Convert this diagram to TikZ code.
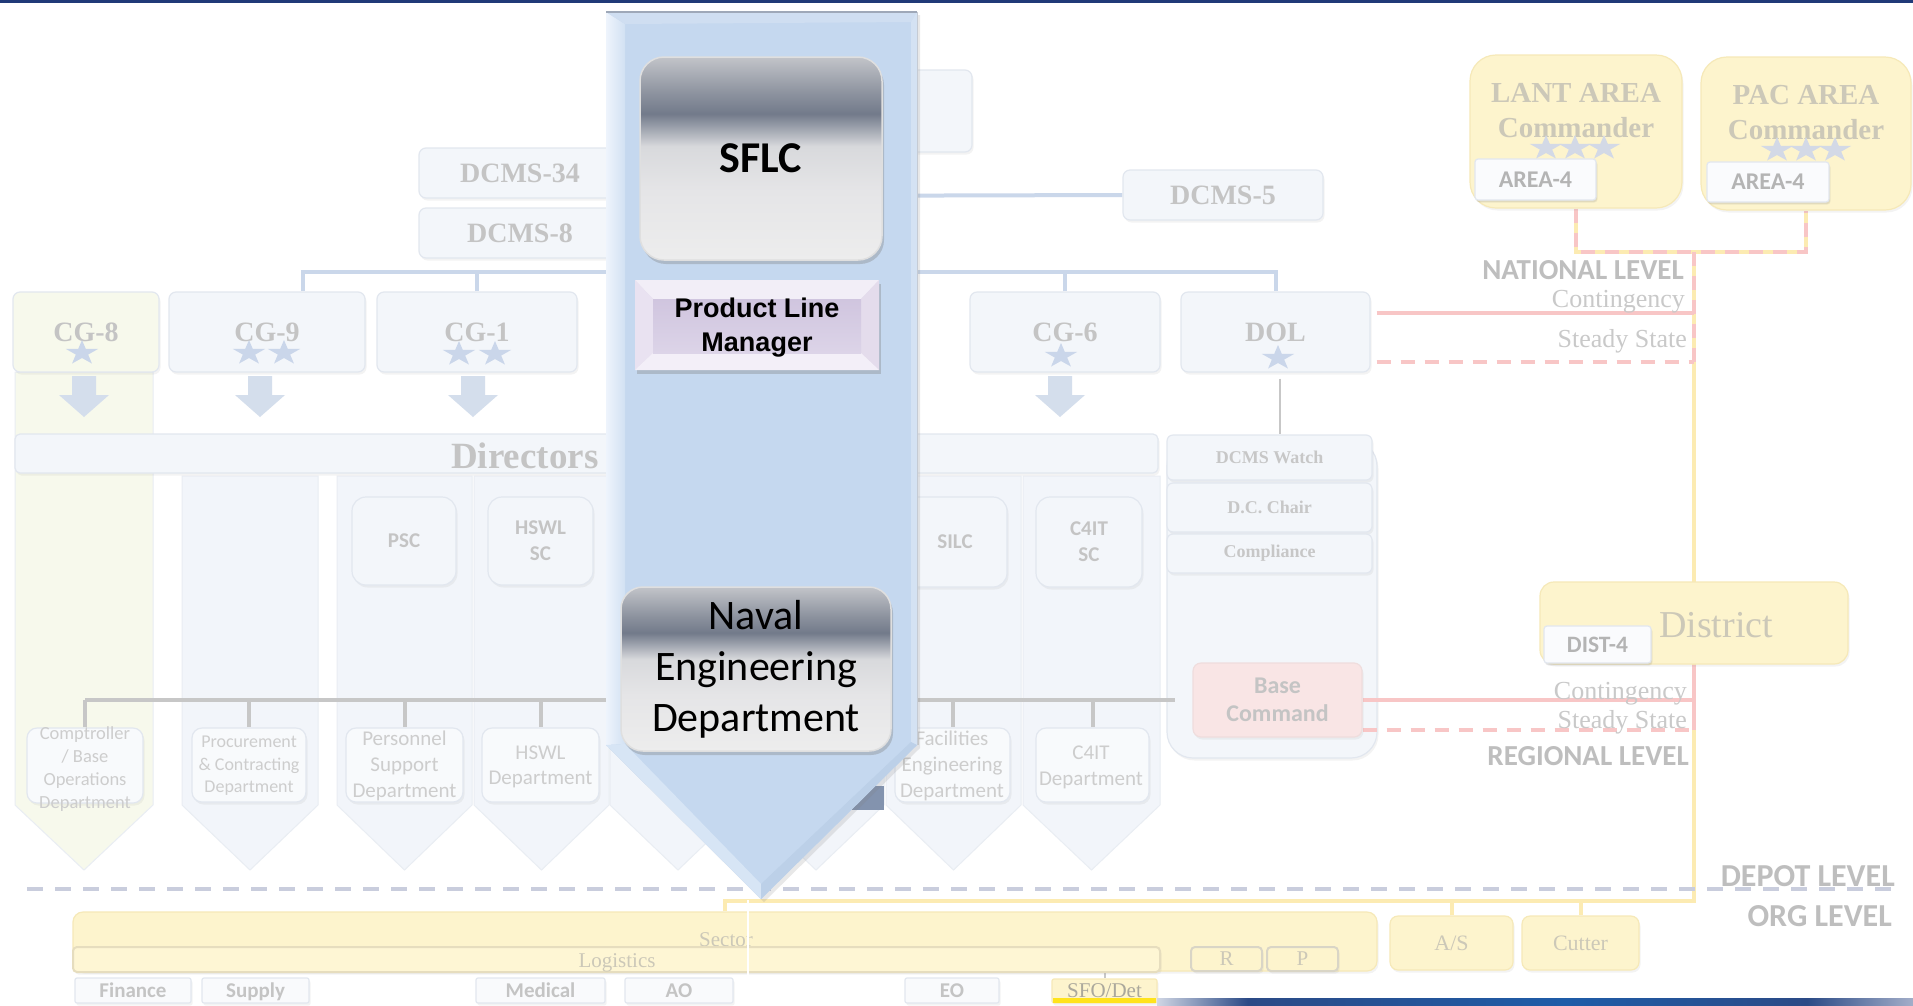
\documentclass[tikz,border=0pt]{standalone}
\usepackage{fontspec}
\setmainfont{Liberation Serif}
\newfontfamily\calf{Carlito}
\newfontfamily\arf{Liberation Sans}
\usetikzlibrary{shapes.geometric,shadows}
\newcommand\fsz[2]{\fontsize{#1}{#2}\selectfont}

\definecolor{navy}{HTML}{203A78}
\definecolor{bxfill}{HTML}{F3F6FA}
\definecolor{bxline}{HTML}{E2E7EF}
\definecolor{ftext}{HTML}{C4C4C4}
\definecolor{ltext}{HTML}{CDCDCD}
\definecolor{lvltext}{HTML}{BEBEBE}
\definecolor{ctext}{HTML}{C9C9C9}
\definecolor{ytext}{HTML}{CCC8B8}
\definecolor{starc}{HTML}{CAD6EA}
\definecolor{ystar}{HTML}{D3D9E6}
\definecolor{hline}{HTML}{CAD7EA}
\definecolor{darr}{HTML}{D4DEEC}
\definecolor{busc}{HTML}{C7C7C7}
\definecolor{yfill}{HTML}{FDF4CD}
\definecolor{yline}{HTML}{F6E9B8}
\definecolor{ylink}{HTML}{FCEBB2}
\definecolor{pinkc}{HTML}{F8C6C6}
\definecolor{basef}{HTML}{F9E5E5}
\definecolor{depotc}{HTML}{C9CDDD}
\definecolor{colf}{HTML}{F2F5FA}
\definecolor{colg}{HTML}{F7F9EC}
\definecolor{colline}{HTML}{E9EDF3}
\definecolor{logif}{HTML}{FEF6D4}
\definecolor{logil}{HTML}{E6DDBE}
\definecolor{rpline}{HTML}{D9D5C6}
\definecolor{arrF}{HTML}{C5D8EF}
\definecolor{arrL}{HTML}{EEF4FC}
\definecolor{arrL2}{HTML}{D2E1F3}
\definecolor{arrT}{HTML}{CFDEF1}
\definecolor{arrR}{HTML}{D4E2F3}
\definecolor{arrBL}{HTML}{D7E5F5}
\definecolor{arrBR}{HTML}{BCD0E8}
\definecolor{arrEdge}{HTML}{9EA8B8}
\definecolor{blobc}{HTML}{8393AE}
\definecolor{plmA}{HTML}{D0C5DF}
\definecolor{plmB}{HTML}{DCD4E8}
\definecolor{plmT}{HTML}{F2EEF7}
\definecolor{plmL}{HTML}{E9E2F1}
\definecolor{plmR}{HTML}{E4DCEC}
\definecolor{plmBt}{HTML}{F3EFF8}
\definecolor{mA}{HTML}{EDEDED}
\definecolor{mB}{HTML}{E5E5E7}
\definecolor{mC}{HTML}{D8D9DC}
\definecolor{mD}{HTML}{A4A9B3}
\definecolor{mE}{HTML}{727A8A}
\definecolor{mF}{HTML}{8C929E}
\definecolor{mG}{HTML}{C2C4C9}
\definecolor{nb1}{HTML}{D0D6E4}
\definecolor{nb2}{HTML}{2B4A86}
\definecolor{nb3}{HTML}{1E5CA8}
\definecolor{nb4}{HTML}{A3AEC9}
\definecolor{sfoy}{HTML}{FFE31C}
\definecolor{sfot}{HTML}{ABA89C}

\pgfdeclareverticalshading{metal}{100bp}{color(0bp)=(mA); color(25bp)=(mA); color(42bp)=(mB); color(53bp)=(mC); color(57bp)=(mD); color(61bp)=(mE); color(66bp)=(mF); color(75bp)=(mG); color(100bp)=(mG)}
\pgfdeclarehorizontalshading{navybar}{100bp}{color(0bp)=(nb1); color(25bp)=(nb1); color(31bp)=(nb2); color(52bp)=(nb3); color(68bp)=(nb2); color(75bp)=(nb4); color(100bp)=(nb4)}

\pgfdeclarelayer{colL}
\pgfdeclarelayer{linkL}
\pgfdeclarelayer{topL}
\pgfdeclarelayer{topT}
\pgfsetlayers{colL,linkL,main,topL,topT}

\newcommand\fstar[3][starc]{\fill[#1,shift={(#2,#3)},xscale=1.3] (270:13)--(306:5)--(342:13)--(18:5)--(54:13)--(90:5)--(126:13)--(162:5)--(198:13)--(234:5)--cycle;}
\newcommand\darrow[1]{\fill[darr] (#1-12,376) -- (#1+12,376) -- (#1+12,395) -- (#1+25,395) -- (#1,417) -- (#1-25,395) -- (#1-12,395) -- cycle;}
\newcommand\colshape[4]{\filldraw[col,#4] (#1,#3) -- (#2,#3) -- (#2,805) -- ({(#1+#2)/2},870) -- (#1,805) -- cycle;}

\begin{document}
\begin{tikzpicture}[x=1pt,y=-1pt,
  sz/.style 2 args={minimum width=#1pt, minimum height=#2pt},
  fbox/.style={rectangle, rounded corners=7pt, fill=bxfill, draw=bxline, line width=1.2pt, inner sep=0pt, text=ftext, drop shadow={opacity=0.09, shadow xshift=1.5pt, shadow yshift=-2.5pt}},
  ybox/.style={fbox, fill=yfill, draw=yline, text=ytext},
  tagbox/.style={fbox, rounded corners=3pt, fill=white!55!bxfill, draw=bxline, text=ftext!92!black, font=\calf\bfseries\fsz{24}{28}, drop shadow={opacity=0.14, shadow xshift=1pt, shadow yshift=-2pt}},
  hd/.style={font=\bfseries\fsz{28}{32}},
  sc/.style={fbox, rounded corners=14pt, align=center, font=\calf\bfseries\fsz{21}{26}},
  deptbox/.style={fbox, rounded corners=10pt, fill=white!40!bxfill},
  depttxt/.style={align=center, inner sep=0pt, text=ltext},
  dolsub/.style={fbox, rounded corners=6pt, font=\bfseries\fsz{18}{22}, text=ftext!95!white},
  tabbox/.style={fbox, rounded corners=2pt, fill=white!50!bxfill, font=\calf\bfseries\fsz{21}{24}, text height=13.5pt, text depth=0pt},
  col/.style={fill=colf, draw=colline, line width=1pt},
  link/.style={draw=hline, line width=4pt},
  buslink/.style={draw=busc, line width=4pt},
  ylk/.style={draw=ylink, line width=4pt},
  pk/.style={draw=pinkc, line width=4pt},
  pkd/.style={pk, dash pattern=on 14pt off 10pt},
  lvl/.style={font=\calf\bfseries\fsz{29}{34}, text=lvltext, inner sep=0pt, anchor=base east},
  lvlb/.style={lvl, font=\calf\bfseries\fsz{32}{36}},
  cnd/.style={font=\fsz{26}{30}, text=ctext, inner sep=0pt, anchor=base east},
  yt/.style={font=\fsz{21}{24}, text=ytext, inner sep=0pt, anchor=base},
  metalbox/.style={rectangle, shading=metal, draw=white!75!gray, line width=1.5pt, inner sep=0pt, text=black, drop shadow={opacity=0.35, shadow xshift=2pt, shadow yshift=-4pt}},
]
\useasboundingbox (0,0) rectangle (1913,1005);

% ---------- background columns ----------
\begin{pgfonlayer}{colL}
\fill[white] (0,0) rectangle (1913,1005);
\colshape{15}{153}{372}{fill=colg}
\colshape{182}{318}{476}{}
\colshape{337}{472}{476}{}
\colshape{474}{609}{476}{}
\colshape{610}{746}{476}{}
\colshape{748}{884}{476}{}
\colshape{886}{1021}{476}{}
\colshape{1023}{1160}{476}{}
\node[fbox, rounded corners=26pt, sz={210}{318}] (panel) at (1272,599) {};
\end{pgfonlayer}

\fill[navy] (0,0) rectangle (1913,2.5);

% ---------- upper hierarchy ----------
\node[fbox, sz={272}{82}] (cmdt) at (836,111) {};
\node[fbox, hd, sz={202}{50}] (dcms34) at (520,173) {DCMS-34};
\node[fbox, hd, sz={202}{50}] (dcms8) at (520,233) {DCMS-8};
\node[fbox, hd, sz={200}{50}] (dcms5) at (1223,195) {DCMS-5};
\node[fbox, hd, sz={146}{80}, fill=colg] (cg8) at (86,332) {CG-8};
\node[fbox, hd, sz={196}{80}] (cg9) at (267,332) {CG-9};
\node[fbox, hd, sz={200}{80}] (cg1) at (477,332) {CG-1};
\node[fbox, hd, sz={190}{80}] (cg6) at (1065,332) {CG-6};
\node[fbox, hd, sz={189}{80}] (dol) at (1275.5,332) {DOL};
\fstar{82}{353}
\fstar{249}{353}\fstar{284}{353}
\fstar{459}{354}\fstar{495}{354}
\fstar{1061}{356}
\fstar{1278}{358}
\darrow{84}\darrow{260}\darrow{473}\darrow{1060}

\node[fbox, rounded corners=5pt, sz={1143}{39}] (dirbar) at (586.5,453.5) {};
\node[font=\bfseries\fsz{37}{42}, text=ftext, inner sep=0pt, anchor=base west] at (451,468) {Directors};

% ---------- service centers ----------
\node[sc, sz={104}{88}] (psc) at (404,541) {PSC};
\node[sc, sz={105}{88}] (hswlsc) at (540.5,541) {HSWL\\SC};
\node[sc, sz={104}{90}] (silc) at (955,542) {SILC};
\node[sc, sz={106}{90}] (c4itsc) at (1089,542) {C4IT\\SC};

% ---------- DOL group ----------
\node[dolsub, sz={205}{45}] (watch) at (1269.5,457.5) {DCMS Watch};
\node[dolsub, sz={205}{49}] (chair) at (1269.5,507.5) {D.C. Chair};
\node[dolsub, sz={205}{39}] (compl) at (1269.5,553.5) {Compliance};
\node[fbox, fill=basef, draw=basef!92!gray, sz={169}{74}, rounded corners=8pt, align=center, font=\calf\bfseries\fsz{24}{28}] (base) at (1277.5,700) {Base\\Command};

% ---------- departments ----------
\node[deptbox, sz={116}{75}] (comp) at (85,765.5) {};
\node[depttxt, font=\calf\fsz{18.5}{23}] at (85,769) {Comptroller\\/ Base\\Operations\\Department};
\node[deptbox, sz={114}{74}] (proc) at (249,765) {};
\node[depttxt, font=\calf\fsz{18}{22.5}] at (249,766) {Procurement\\\& Contracting\\Department};
\node[deptbox, sz={117}{74}] (pers) at (404.5,765) {};
\node[depttxt, font=\calf\fsz{21}{26}] at (404.5,766) {Personnel\\Support\\Department};
\node[deptbox, sz={117}{74}] (hswld) at (540.5,765) {};
\node[depttxt, font=\calf\fsz{21}{25}] at (540.5,767) {HSWL\\Department};
\node[deptbox, sz={115}{74}] (facd) at (952.5,765) {};
\node[depttxt, font=\calf\fsz{21}{26}] at (952,766) {Facilities\\Engineering\\Department};
\node[deptbox, sz={113}{74}] (c4itd) at (1092.5,765) {};
\node[depttxt, font=\calf\fsz{21}{26}] at (1091,767.5) {C4IT\\Department};

% ---------- area / district ----------
\node[ybox, rounded corners=26pt, sz={212}{153}] (lant) at (1576,131.5) {};
\node[ybox, rounded corners=26pt, sz={210}{153}] (pac) at (1806,133.5) {};
\node[font=\bfseries\fsz{29}{34}, text=ytext, inner sep=0pt, anchor=base] at (1576,102) {LANT AREA};
\node[font=\bfseries\fsz{29}{34}, text=ytext, inner sep=0pt, anchor=base] at (1576,137) {Commander};
\node[font=\bfseries\fsz{29}{34}, text=ytext, inner sep=0pt, anchor=base] at (1806,104) {PAC AREA};
\node[font=\bfseries\fsz{29}{34}, text=ytext, inner sep=0pt, anchor=base] at (1806,139) {Commander};
\fstar[ystar]{1546}{148}\fstar[ystar]{1575}{148}\fstar[ystar]{1604}{148}
\fstar[ystar]{1777}{150}\fstar[ystar]{1806}{150}\fstar[ystar]{1835}{150}
\node[tagbox, sz={121}{41}] (area4a) at (1535.5,179.5) {AREA-4};
\node[tagbox, sz={122}{40}] (area4b) at (1768,182) {AREA-4};
\node[ybox, rounded corners=14pt, sz={308}{82}] (district) at (1694,623) {};
\node[font=\fsz{38}{42}, text=ytext, inner sep=0pt, anchor=base] at (1716,637) {District};
\node[tagbox, sz={107}{37}, font=\calf\bfseries\fsz{23.5}{27}] (dist4) at (1597.5,644.5) {DIST-4};

% ---------- org level ----------
\node[ybox, rounded corners=10pt, sz={1304}{59}] (sector) at (725,941.5) {};
\node[yt] at (726,946) {Sector};
\node[ybox, rounded corners=4pt, sz={1087}{25}, fill=logif, draw=logil, line width=2pt] (logi) at (616.5,959.5) {};
\node[yt] at (617,967) {Logistics};
\node[ybox, rounded corners=4pt, sz={71}{24}, draw=rpline, line width=2pt, font=\fsz{21}{24}] (rbox) at (1226.5,959) {R};
\node[ybox, rounded corners=4pt, sz={71}{24}, draw=rpline, line width=2pt, font=\fsz{21}{24}] (pbox) at (1302.5,959) {P};
\node[ybox, rounded corners=8pt, sz={123}{54}, font=\fsz{22}{26}] (asbox) at (1451.5,943) {A/S};
\node[ybox, rounded corners=8pt, sz={117}{54}, font=\fsz{22}{26}] (cutter) at (1580.5,943) {Cutter};
\draw[white, line width=1.5pt] (748,900) -- (748,985);

\node[tabbox, sz={116}{25}] (fin) at (133,990.5) {Finance};
\node[tabbox, sz={107}{25}] (sup) at (255.5,990.5) {Supply};
\node[tabbox, sz={129}{25}] (med) at (540.5,990.5) {Medical};
\node[tabbox, sz={108}{25}] (ao) at (679,990.5) {AO};
\node[tabbox, sz={94}{25}] (eo) at (952,990.5) {EO};
\node[tabbox, sz={105}{24}, fill=yfill, draw=yline, font=\fsz{21}{24}, text=sfot] (sfo) at (1104.5,991) {SFO/Det};
\fill[sfoy] (1053,997.5) rectangle (1156,1003);
\shade[shading=navybar] (1157,998) rectangle (1913,1005);

% ---------- level labels ----------
\node[lvl] at (1684,279) {NATIONAL LEVEL};
\node[cnd] at (1685,307) {Contingency};
\node[cnd] at (1687,347) {Steady State};
\node[cnd] at (1687,699) {Contingency};
\node[cnd] at (1687,728) {Steady State};
\node[lvl] at (1689,765) {REGIONAL LEVEL};
\node[lvlb] at (1895,886) {DEPOT LEVEL};
\node[lvlb] at (1892,926) {ORG LEVEL};

% ---------- connectors ----------
\begin{pgfonlayer}{linkL}
\coordinate (hubA) at (760,196);
\coordinate (hubB) at (760,272);
\coordinate (cg9t) at ([xshift=36pt]cg9.north);
\draw[link] (hubA) -- (dcms5.west);
\draw[link] (cg9t) -- (cg9t |- hubB) -- (dol.north |- hubB) -- (dol.north);
\draw[link] (cg1.north) -- (cg1.north |- hubB);
\draw[link] (cg6.north) -- (cg6.north |- hubB);
\coordinate (dolB) at ([xshift=4.5pt,yshift=-6pt]dol.south);
\draw[draw=busc, line width=1.5pt] (dolB) -- (dolB |- watch.north);
\coordinate (busE) at (1175,700);
\draw[buslink] (comp.north |- busE) -- (busE);
\foreach \n in {comp,proc,pers,hswld,facd,c4itd} \draw[buslink] (\n.north) -- (\n.north |- busE);
\coordinate (natJ) at (1694,252);
\coordinate (orgY) at (1694,901);
\draw[ylk] (sector.north) -- (sector.north |- orgY) -- (orgY) -- (natJ);
\draw[ylk] (asbox.north) -- (asbox.north |- orgY);
\draw[ylk] (cutter.north) -- (cutter.north |- orgY);
\draw[ylk] (lant.south) -- (lant.south |- natJ) -- (pac.south |- natJ) -- (pac.south);
\draw[pkd] (lant.south) -- (lant.south |- natJ) -- (pac.south |- natJ) -- (pac.south);
\coordinate (natC) at (1694,313);
\coordinate (natS) at (1694,362);
\draw[pk, shorten <=6pt] (dol.east |- natC) -- (natC);
\draw[pkd, shorten <=6pt] (dol.east |- natS) -- (natS);
\draw[pkd] (natJ) -- (natS);
\coordinate (regC) at (1694,700);
\coordinate (regS) at (1694,730);
\draw[pk] (base.east) -- (regC);
\draw[pkd] (base.east |- regS) -- (regS);
\draw[pk] (district.south) -- (regS);
\coordinate (depL) at (27,889);
\coordinate (depR) at (1892,889);
\draw[draw=depotc, line width=4.5pt, dash pattern=on 16pt off 12pt] (depL) -- (depR);
\draw[draw=busc, line width=2pt] (sfo.north) -- (sfo.north |- logi.south);
\end{pgfonlayer}

\fill[blobc] (852,786) rectangle (884,810);

% ---------- big arrow ----------
\begin{pgfonlayer}{topL}
\fill[arrF, drop shadow={opacity=0.18, shadow xshift=3pt, shadow yshift=-3pt}] (606,12) -- (917,12) -- (917,745) -- (761,899) -- (606,745) -- cycle;
\shade[left color=arrL, right color=arrL2] (606,12) -- (625,24) -- (625,744) -- (606,745) -- cycle;
\fill[arrT] (606,12) -- (917,12) -- (911,22) -- (625,24) -- cycle;
\fill[arrR] (917,12) -- (911,22) -- (911,742) -- (917,745) -- cycle;
\fill[arrBL] (606,745) -- (625,744) -- (761,884) -- (761,899) -- cycle;
\fill[arrBR] (917,745) -- (911,742) -- (761,884) -- (761,899) -- cycle;
\draw[arrEdge, line width=1.2pt] (606,12) -- (917,12);
\draw[arrEdge!60!white, line width=1pt] (917,12) -- (917,745);
\end{pgfonlayer}

% ---------- highlighted boxes ----------
\begin{pgfonlayer}{topT}
\node[metalbox, rounded corners=24pt, sz={242}{203}, font=\calf\bfseries\fsz{44}{50}] (sflc) at (761,158.5) {SFLC};
\node[rectangle, fill=plmR, sz={244}{90}, inner sep=0pt, drop shadow={opacity=0.35, shadow xshift=2pt, shadow yshift=-4pt}] (plm) at (757,325) {};
\fill[plmT] (635,280) -- (879,280) -- (861,299) -- (653,299) -- cycle;
\fill[plmL] (635,280) -- (653,299) -- (653,353) -- (635,370) -- cycle;
\fill[plmR] (879,280) -- (861,299) -- (861,353) -- (879,370) -- cycle;
\fill[plmBt] (635,370) -- (653,353) -- (861,353) -- (879,370) -- cycle;
\shade[top color=plmA, bottom color=plmB] (653,299) rectangle (861,353);
\node[align=center, inner sep=0pt, font=\arf\bfseries\fsz{27}{34}] (plmtxt) at (757,328) {Product Line\\Manager};
\node[metalbox, rounded corners=22pt, sz={270}{164}, align=center, font=\calf\fsz{42}{51}] (naval) at (756,669) {Naval\\Engineering\\Department};
\end{pgfonlayer}
\end{tikzpicture}
\end{document}
